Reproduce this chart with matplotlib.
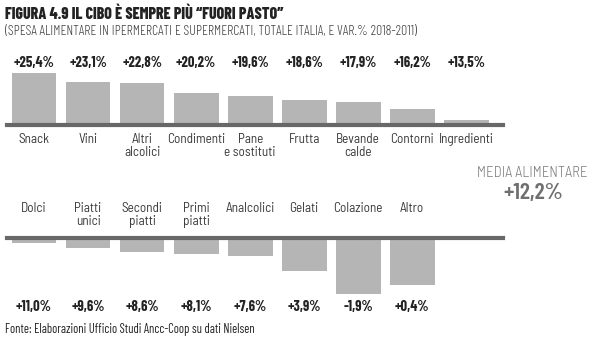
import matplotlib
import matplotlib.pyplot as plt
import matplotlib.transforms as mtransforms

matplotlib.use('Agg')

plt.rcParams['font.family'] = ['Barlow Condensed', 'DejaVu Sans']
LABEL_FONT = ['Barlow Semi Condensed', 'DejaVu Sans']

MEDIA = 12.2

top_labels = ["Snack", "Vini", "Altri\nalcolici", "Condimenti", "Pane\ne sostituti",
              "Frutta", "Bevande\ncalde", "Contorni", "Ingredienti"]
top_values = [25.4, 23.1, 22.8, 20.2, 19.6, 18.6, 17.9, 16.2, 13.5]

bottom_labels = ["Dolci", "Piatti\nunici", "Secondi\npiatti", "Primi\npiatti",
                 "Analcolici", "Gelati", "Colazione", "Altro"]
bottom_values = [11.0, 9.6, 8.6, 8.1, 7.6, 3.9, -1.9, 0.4]

BAR_COLOR = "#b5b5b5"
LINE_COLOR = "#686868"
W, H = 600, 343


def fmt(v):
    return f"{v:+.1f}%".replace(".", ",")


def px_axes(fig, left, top, right, bottom):
    """axes from pixel box (top-left origin)"""
    return fig.add_axes([left / W, 1 - bottom / H, (right - left) / W, (bottom - top) / H])


fig = plt.figure(figsize=(6, 3.43), dpi=100)

# top row: bars show the gap over the food average
ax1 = px_axes(fig, 7, 69.7, 503, 125)
dev_top = [v - MEDIA for v in top_values]
ax1.bar(range(len(top_values)), dev_top, width=0.83, color=BAR_COLOR)
ax1.set_xlim(-0.5, 8.68)
ax1.set_ylim(0, 14)
ax1.axhline(0, color=LINE_COLOR, lw=3, clip_on=False)
ax1.axis('off')
tr1 = mtransforms.blended_transform_factory(ax1.transData, ax1.transAxes)
for i, (lab, v) in enumerate(zip(top_labels, top_values)):
    ax1.text(i, 1.12, fmt(v), transform=tr1, ha='center', va='center',
             fontsize=10.5, fontweight='bold', color='#222222')
    ax1.text(i, -0.15, lab, transform=tr1, ha='center', va='top', family=LABEL_FONT,
             fontsize=9.5, color='#3a3a3a', linespacing=1.0)

# bottom row
ax2 = px_axes(fig, 7, 238, 503, 297.2)
dev_bot = [v - MEDIA for v in bottom_values]
ax2.bar(range(len(bottom_values)), dev_bot, width=0.83, color=BAR_COLOR)
ax2.set_xlim(-0.5, 8.68)
ax2.set_ylim(-15, 0)
ax2.axhline(0, color=LINE_COLOR, lw=3, clip_on=False)
ax2.axis('off')
tr2 = mtransforms.blended_transform_factory(ax2.transData, ax2.transAxes)
for i, (lab, v) in enumerate(zip(bottom_labels, bottom_values)):
    ax2.text(i, 1.6, lab, transform=tr2, ha='center', va='top', family=LABEL_FONT,
             fontsize=9.5, color='#3a3a3a', linespacing=1.0)
    ax2.text(i, -0.165, fmt(v), transform=tr2, ha='center', va='center',
             fontsize=10.5, fontweight='bold', color='#222222')

# average
fig.text(532 / W, 1 - 173 / H, "MEDIA ALIMENTARE", ha='center', va='center',
         family=LABEL_FONT, fontsize=10.5, fontweight=300, color='#7a7a7a')
fig.text(533 / W, 1 - 193 / H, fmt(MEDIA), ha='center', va='center',
         fontsize=17, fontweight=600, color='#6f6f6f')

# titles
fig.text(5 / W, 1 - 14 / H, "FIGURA 4.9 IL CIBO È SEMPRE PIÙ \u201cFUORI PASTO\u201d",
         ha='left', va='center', fontsize=11.5, fontweight=800, color='#222222')
fig.text(5 / W, 1 - 31 / H,
         "(SPESA ALIMENTARE IN IPERMERCATI E SUPERMERCATI, TOTALE ITALIA, E VAR.% 2018-2011)",
         ha='left', va='center', fontsize=10, fontweight=300, color='#444444')
fig.text(5 / W, 1 - 329 / H, "Fonte: Elaborazioni Ufficio Studi Ancc-Coop su dati Nielsen",
         ha='left', va='center', fontsize=9, color='#222222')

fig.savefig("out.png", dpi=100)
plt.close(fig)
